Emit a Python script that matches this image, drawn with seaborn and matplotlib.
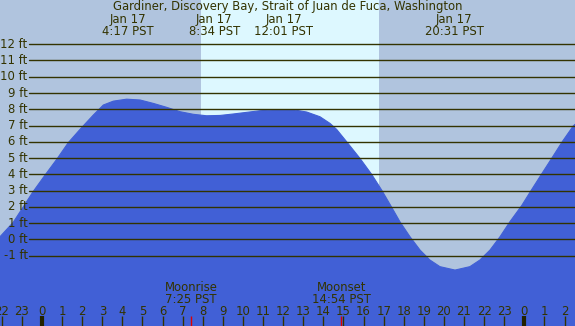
import matplotlib
matplotlib.use("Agg")
import matplotlib.pyplot as plt
import seaborn as sns
import pandas as pd
import numpy as np

# ---- data ----
tide_hours = [-2.09, -1.43, -0.93, -0.45, 0.15, 0.75, 1.31, 1.89, 2.55, 3.05, 3.55,
              4.21, 4.88, 5.54, 6.20, 6.87, 7.53, 8.19, 8.86, 9.52, 10.18, 10.85,
              11.68, 12.50, 13.17, 13.83, 14.33, 14.66, 15.16, 15.82, 16.40, 16.90,
              17.40, 17.81, 18.31, 18.81, 19.30, 19.80, 20.55, 21.29, 21.79, 22.29,
              22.79, 23.28, 23.87, 24.36, 24.86, 25.36, 25.90, 26.43, 26.55]
tide_ft = [0.16, 1.05, 2.0, 2.92, 3.95, 4.95, 5.95, 6.76, 7.64, 8.26, 8.50,
           8.62, 8.57, 8.36, 8.12, 7.85, 7.69, 7.60, 7.62, 7.71, 7.81, 7.91,
           7.97, 7.97, 7.83, 7.54, 7.13, 6.76, 6.00, 4.98, 4.00, 3.03,
           1.97, 1.08, 0.16, -0.66, -1.27, -1.68, -1.89, -1.68, -1.27, -0.66,
           0.16, 1.08, 2.08, 3.05, 4.02, 4.98, 6.03, 6.97, 7.1]

extreme_hours = [4.28, 8.57, 12.02, 20.52]
extreme_dates = ["Jan 17", "Jan 17", "Jan 17", "Jan 17"]
extreme_times = ["4:17 PST", "8:34 PST", "12:01 PST", "20:31 PST"]

moon_hours = [7.42, 14.9]
moon_names = ["Moonrise", "Moonset"]
moon_times = ["7:25 PST", "14:54 PST"]

sunrise_hour = 7.91
sunset_hour = 16.77

level_ticks = list(range(-1, 13))
hour_ticks = list(range(-2, 27))
hour_labels = [str(h % 24) for h in hour_ticks]

title = "Gardiner, Discovery Bay, Strait of Juan de Fuca, Washington"

# ---- styling ----
bg = "#b0c4de"
day = "#ddf8ff"
water = "#4160d6"
ink = "#333300"

sns.set_style("white")
plt.rcParams["font.family"] = ["DejaVu Sans"]

fig = plt.figure(figsize=(5.75, 3.26), dpi=100)
ax = fig.add_axes([0, 0, 1, 1])
xmin, xmax = -2.09, 26.52
ymin, ymax = -5.33, 14.72
ax.set_xlim(xmin, xmax)
ax.set_ylim(ymin, ymax)
ax.set_facecolor(bg)
ax.axis("off")
fig.patch.set_facecolor(bg)

ax.axvspan(sunrise_hour, sunset_hour, color=day, zorder=0, lw=0)

df = pd.DataFrame({"hour": tide_hours, "ft": tide_ft})
sns.lineplot(data=df, x="hour", y="ft", ax=ax, color=water, lw=0.8, zorder=2)
ax.fill_between(df["hour"], df["ft"], ymin, color=water, lw=0, zorder=2)

fs = 8.4
# level lines and labels
for lv in level_ticks:
    ax.axhline(lv, xmin=29 / 575, xmax=1, color=ink, lw=1.0, zorder=3)
    ax.text(-0.72, lv, f"{lv} ft", ha="right", va="center", fontsize=fs,
            color=ink, zorder=4)

# title and extremes
ax.text(0.5 * (xmin + xmax), 14.3, title, ha="center", va="center",
        fontsize=fs, color=ink, zorder=4)
for h, d, t in zip(extreme_hours, extreme_dates, extreme_times):
    ax.text(h, 13.55, d, ha="center", va="center", fontsize=fs, color=ink, zorder=4)
    ax.text(h, 12.8, t, ha="center", va="center", fontsize=fs, color=ink, zorder=4)

# moon
for h, n, t in zip(moon_hours, moon_names, moon_times):
    ax.text(h, -2.95, n, ha="center", va="center", fontsize=fs, color=ink, zorder=4)
    ax.text(h, -3.70, t, ha="center", va="center", fontsize=fs, color=ink, zorder=4)
    ax.vlines(h, ymin, -4.72, color="#e00000", lw=1.0, zorder=4)

# hour ticks
for h, lab in zip(hour_ticks, hour_labels):
    ax.text(h, -4.42, lab, ha="center", va="center", fontsize=fs, color=ink, zorder=4)
    ax.vlines(h, ymin, -4.72, color="#222200" if h % 24 == 0 else ink,
              lw=3.0 if h % 24 == 0 else 1.0, zorder=4)

fig.savefig("out.png", dpi=100, facecolor=bg)
